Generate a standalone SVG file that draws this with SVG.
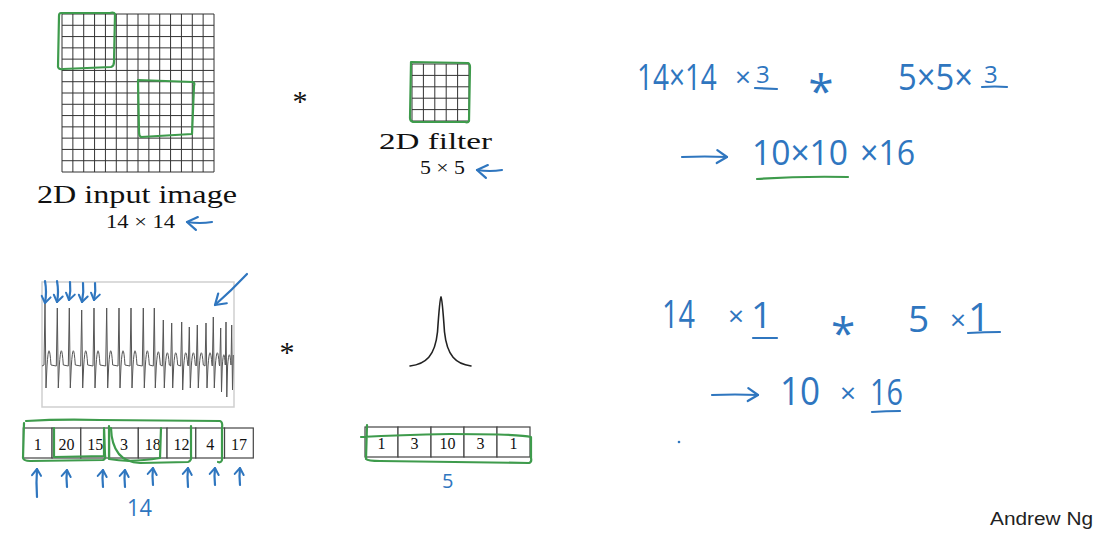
<svg xmlns="http://www.w3.org/2000/svg" width="1099" height="535" viewBox="0 0 1099 535">
<style>
.grid{stroke:#333;stroke-width:1;fill:none}
.green{stroke:#3e9b4c;stroke-width:2.2;fill:none;stroke-linecap:round;stroke-linejoin:round}
.blue{stroke:#2f76bf;stroke-width:2.2;fill:none;stroke-linecap:round;stroke-linejoin:round}
.hand{font-family:"Open Sans","Liberation Sans",Arial,sans-serif;font-weight:400;fill:#2f76bf}
.serif{font-family:"Liberation Serif","Times New Roman",serif;fill:#111}
.cell{fill:#fff;stroke:#444;stroke-width:1.2}
.num{font-family:"Liberation Serif","Times New Roman",serif;font-size:16px;fill:#111;text-anchor:middle}
</style>
<defs>
<marker id="ah" markerUnits="userSpaceOnUse" markerWidth="16" markerHeight="16" viewBox="0 0 16 16" refX="14" refY="8" orient="auto">
<path d="M4,1.5 L14,8 L4,14.5" fill="none" stroke="#2f76bf" stroke-width="2.2" stroke-linecap="round" stroke-linejoin="round"/>
</marker>
<marker id="ahs" markerUnits="userSpaceOnUse" markerWidth="12" markerHeight="12" viewBox="0 0 12 12" refX="10.5" refY="6" orient="auto">
<path d="M4,1.5 L10.5,6 L4,10.5" fill="none" stroke="#2f76bf" stroke-width="2" stroke-linecap="round" stroke-linejoin="round"/>
</marker>
</defs>
<rect width="1099" height="535" fill="#fff"/>

<g id="input-image">
<path class="grid" d="M62,14V172M72.86,14V172M83.71,14V172M94.57,14V172M105.43,14V172M116.29,14V172M127.14,14V172M138,14V172M148.86,14V172M159.71,14V172M170.57,14V172M181.43,14V172M192.29,14V172M203.14,14V172M214,14V172"/>
<path class="grid" d="M62,14H214M62,25.29H214M62,36.57H214M62,47.86H214M62,59.14H214M62,70.43H214M62,81.71H214M62,93H214M62,104.29H214M62,115.57H214M62,126.86H214M62,138.14H214M62,149.43H214M62,160.71H214M62,172H214"/>
<path class="green" d="M61,13 Q59,13 59,16 L58,67 Q59,70 63,69 L111,67 Q114,66 114,62 L115,14 Q114,12 110,13 Z"/>
<path class="green" d="M138,80 L193,82 Q195,83 194,86 L192,134 L141,137 Q139,136 139,132 Z"/>
<text class="serif" x="137" y="203" font-size="26" text-anchor="middle" textLength="200" lengthAdjust="spacingAndGlyphs">2D input image</text>
<text class="serif" x="106" y="228" font-size="18" textLength="69" lengthAdjust="spacingAndGlyphs">14 × 14</text>
</g>

<g id="op-2d">
<text class="serif" x="300" y="111" font-size="30" text-anchor="middle">*</text>
</g>

<g id="filter-2d">
<path class="grid" d="M412,64V121M423.4,64V121M434.8,64V121M446.2,64V121M457.6,64V121M469,64V121M412,64H469M412,75.4H469M412,86.8H469M412,98.2H469M412,109.6H469M412,121H469"/>
<path class="green" d="M411,62 L468,63 Q470,64 470,67 L469,121 Q468,123 465,122 L413,122 Q410,121 410,118 Z"/>
<text class="serif" x="379" y="149" font-size="24" textLength="113" lengthAdjust="spacingAndGlyphs">2D filter</text>
<text class="serif" x="420" y="174" font-size="18" textLength="45" lengthAdjust="spacingAndGlyphs">5 × 5</text>
</g>

<g id="ecg-signal">
<rect x="42" y="282" width="192" height="125" fill="#fff" stroke="#cfcfcf" stroke-width="1.5"/>
<path fill="none" stroke="#555" stroke-width="1" stroke-linejoin="round" d="M42,366 L44,365 L45,303 L46,388 L47,366 Q49,336 51,365 L56.3,366 L57.3,308 L58.3,388 L59.3,366 Q61.3,336 63.3,365 L68.3,366 L69.3,308 L70.3,388 L71.3,366 Q73.3,336 75.3,365 L80.7,366 L81.7,310 L82.7,388 L83.7,366 Q85.7,336 87.7,365 L93,366 L94,308 L95,388 L96,366 Q98,336 100,365 L105.7,366 L106.7,308 L107.7,388 L108.7,366 Q110.7,336 112.7,365 L118,366 L119,308 L120,388 L121,366 Q123,336 125,365 L130,366 L131,308 L132,388 L133,366 Q135,336 137,365 L142.3,366 L143.3,308 L144.3,388 L145.3,366 Q147.3,336 149.3,365 L153.3,366 L154.3,308 L155.3,388 L156.3,366 Q158.3,338 160.3,365 L162.3,366 L163.3,320 L164.3,388 L165.3,366 Q167.3,340 169.3,365 L170.7,366 L171.7,323 L172.7,388 L173.7,366 Q175.7,340 177.7,365 L180.7,366 L181.7,322 L182.7,390 L183.7,366 Q185.7,340 187.7,365 L188.3,366 L189.3,327 L190.3,388 L191.3,366 Q193.3,340 195.3,365 L196.3,366 L197.3,325 L198.3,388 L199.3,366 Q201.3,340 203.3,365 L205,366 L206,323 L207,388 L208,366 Q210,340 212,365 L212.3,366 L213.3,317 L214.3,388 L215.3,366 Q217.3,340 219.3,365 L219.7,366 L220.7,328 L221.5,392 L222.3,366 Q223.8,344 225.3,365 L226,322 L226.8,397 L227.6,366 Q229.3,344 231,365 L231.7,325 L232.5,390 L233.3,355"/>
</g>

<g id="op-1d">
<text class="serif" x="287" y="362" font-size="30" text-anchor="middle">*</text>
</g>

<g id="bell-curve">
<path fill="none" stroke="#222" stroke-width="1.6" stroke-linecap="round" d="M410,366 C426,364 435,356 437.5,332 C439,310 440,298 441,297 C442,298 443,310 444.5,332 C447,356 456,364 471,366"/>
</g>

<g id="array-input">
<rect class="cell" x="23.3" y="428" width="28.75" height="30"/>
<rect class="cell" x="52.05" y="428" width="28.75" height="30"/>
<rect class="cell" x="80.8" y="428" width="28.75" height="30"/>
<rect class="cell" x="109.55" y="428" width="28.75" height="30"/>
<rect class="cell" x="138.3" y="428" width="28.75" height="30"/>
<rect class="cell" x="167.05" y="428" width="28.75" height="30"/>
<rect class="cell" x="195.8" y="428" width="28.75" height="30"/>
<rect class="cell" x="224.55" y="428" width="28.75" height="30"/>
<text class="num" x="37.7" y="450">1</text>
<text class="num" x="66.4" y="450">20</text>
<text class="num" x="95.2" y="450">15</text>
<text class="num" x="123.9" y="450">3</text>
<text class="num" x="152.7" y="450">18</text>
<text class="num" x="181.4" y="450">12</text>
<text class="num" x="210.2" y="450">4</text>
<text class="num" x="238.9" y="450">17</text>
<path class="green" d="M24,423 L23,458 Q24,461 30,461 L103,460 Q106,459 105,455 L104,428"/>
<path class="green" d="M26,421 Q60,419 100,420 L220,421 Q223,422 222,428 L222,460 Q221,463 218,462"/>
<path class="green" d="M54,428 L54,457 L104,456 L104,430"/>
<path class="green" d="M109,426 L109,459 Q130,463 160,458 L161,428"/>
<path class="green" d="M111,428 Q112,462 140,463 L188,462 Q192,461 191,455 L191,426"/>
<text class="hand" transform="translate(127,516) scale(0.95,1)" font-size="23">14</text>
</g>

<g id="array-filter">
<rect class="cell" x="365" y="427" width="33" height="30"/>
<rect class="cell" x="398" y="427" width="33" height="30"/>
<rect class="cell" x="431" y="427" width="33" height="30"/>
<rect class="cell" x="464" y="427" width="33" height="30"/>
<rect class="cell" x="497" y="427" width="33" height="30"/>
<text class="num" x="381.5" y="449">1</text>
<text class="num" x="414.5" y="449">3</text>
<text class="num" x="447.5" y="449">10</text>
<text class="num" x="480.5" y="449">3</text>
<text class="num" x="513.5" y="449">1</text>
<path class="green" d="M367,425 L366,459 Q368,461 380,461 Q450,462 529,463 Q532,462 531,458 L531,437 Q520,434 450,434 Q400,435 361,437"/>
<text class="hand" x="442" y="488" font-size="20">5</text>
</g>

<g id="notes-2d">
<text class="hand" transform="translate(637,90) scale(0.755,1)" font-size="37">14×14</text>
<text class="hand" x="735" y="87" font-size="28">×<tspan x="756" y="83" font-size="24">3</tspan></text>
<text class="hand" x="821" y="108" font-size="46" text-anchor="middle">*</text>
<text class="hand" transform="translate(898,90) scale(0.885,1)" font-size="37">5×5×</text>
<text class="hand" x="984" y="83" font-size="24">3</text>
<path class="blue" d="M755,88 L777,89"/>
<path class="blue" d="M982,87 Q995,86 1007,87"/>
<text class="hand" transform="translate(752,165) scale(0.96,1)" font-size="35">10×10</text>
<text class="hand" transform="translate(860,165) scale(0.92,1)" font-size="35">×16</text>
<path class="green" d="M757,179 Q800,176 848,177"/>
</g>

<g id="notes-1d">
<text class="hand" transform="translate(662,328) scale(0.74,1)" font-size="39">14</text>
<text class="hand" x="728" y="326" font-size="28">×</text>
<text class="hand" x="751" y="328" font-size="37">1</text>
<path class="blue" d="M753,338 L777,338"/>
<text class="hand" x="843" y="349" font-size="44" text-anchor="middle">*</text>
<text class="hand" x="908" y="332" font-size="37">5</text>
<text class="hand" x="950" y="330" font-size="28">×</text>
<text class="hand" x="968" y="331" font-size="39">1</text>
<path class="blue" d="M968,333 Q985,332 1000,332"/>
<text class="hand" transform="translate(780,405) scale(0.9,1)" font-size="39">10</text>
<text class="hand" x="840" y="403" font-size="28">×</text>
<text class="hand" transform="translate(870,405) scale(0.78,1)" font-size="37">16</text>
<path class="blue" d="M872,412 Q886,411 900,411"/>
<circle cx="679" cy="442" r="1.3" fill="#2f76bf"/>
</g>

<g id="connectors">
<path class="blue" d="M212,222 Q200,224 187,222" marker-end="url(#ah)"/>
<path class="blue" d="M502,170 Q490,172 477,170" marker-end="url(#ah)"/>
<path class="blue" d="M682,157 Q705,156 727,157" marker-end="url(#ah)"/>
<path class="blue" d="M712,395 Q735,394 758,395" marker-end="url(#ah)"/>
<path class="blue" d="M247,274 Q232,290 215,305" marker-end="url(#ah)"/>
<path class="blue" d="M45,281 Q47,292 45,303" marker-end="url(#ahs)"/>
<path class="blue" d="M57,281 Q59,292 57,302" marker-end="url(#ahs)"/>
<path class="blue" d="M70,282 Q71,291 69,300" marker-end="url(#ahs)"/>
<path class="blue" d="M83,283 Q84,292 82,302" marker-end="url(#ahs)"/>
<path class="blue" d="M95,283 Q96,291 94,300" marker-end="url(#ahs)"/>
<path class="blue" d="M37,497 Q36,482 37,469" marker-end="url(#ahs)"/>
<path class="blue" d="M67,487 Q66,478 67,470" marker-end="url(#ahs)"/>
<path class="blue" d="M103,487 Q102,478 103,470" marker-end="url(#ahs)"/>
<path class="blue" d="M125,487 Q124,478 125,470" marker-end="url(#ahs)"/>
<path class="blue" d="M153,485 Q152,476 153,468" marker-end="url(#ahs)"/>
<path class="blue" d="M188,487 Q187,477 188,468" marker-end="url(#ahs)"/>
<path class="blue" d="M215,485 Q214,476 215,468" marker-end="url(#ahs)"/>
<path class="blue" d="M240,485 Q239,476 240,468" marker-end="url(#ahs)"/>
</g>

<g id="credit">
<text x="990" y="525" font-family="'Liberation Sans',Arial,sans-serif" font-size="18" fill="#222" textLength="103" lengthAdjust="spacingAndGlyphs">Andrew Ng</text>
</g>
</svg>
